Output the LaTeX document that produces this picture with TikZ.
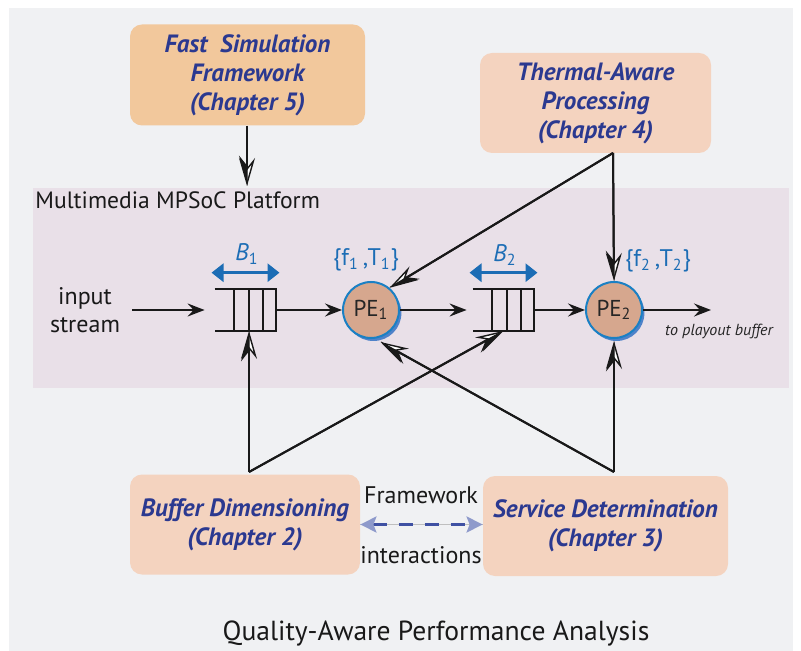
\documentclass[tikz,border=0pt]{standalone}
\usepackage{fontspec}
\setmainfont{PT Sans}
\usepackage{xcolor}
\usetikzlibrary{arrows.meta}
\usetikzlibrary{shadows}
\definecolor{outerbg}{HTML}{F0F1F3}
\definecolor{bandbg}{HTML}{E9E0E8}
\definecolor{fastfill}{HTML}{F2C89C}
\definecolor{peachfill}{HTML}{F4D3BF}
\definecolor{titleblue}{HTML}{2B3990}
\definecolor{labelblue}{HTML}{1C6DB5}
\definecolor{pefill}{HTML}{D6A78E}
\definecolor{peline}{HTML}{1A80C4}
\definecolor{peshadow}{HTML}{4E82C9}
\definecolor{dashblue}{HTML}{3F51A3}
\definecolor{tipblue}{HTML}{8E9ACB}
\tikzset{
    chapbox/.style = {rectangle, rounded corners=6pt, align=center, inner sep=0pt,
        text=titleblue, font=\fontsize{12.5}{14.5}\selectfont\bfseries\itshape},
    pe_node/.style = {circle, draw=peline, line width=1pt, fill=pefill, minimum size=28pt,
        inner sep=0pt, text=black!85, font=\fontsize{11.5}{12}\selectfont,
        drop shadow={shadow xshift=1.2pt, shadow yshift=-1.5pt, fill=peshadow, opacity=1}},
    buffer/.style = {rectangle, minimum width=30.5pt, minimum height=20.5pt, inner sep=0pt},
    bufline/.style = {line width=1pt, black!90},
    flow/.style = {line width=1pt, black!90, -{Stealth[length=8.5pt, width=6.5pt, inset=3pt]}},
    ctrl/.style = {line width=1pt, black!90,
        -{Stealth[length=14pt, width=8pt, inset=5pt, fill=white, line width=0.7pt]},
        postaction={draw, -{Stealth[#1, length=14pt, width=8pt, inset=5pt, fill=black!90, line width=0.7pt]}}},
    ctrl/.default = left,
    sizearrow/.style = {line width=1.5pt, labelblue, {Triangle[length=6pt, width=9pt]}-{Triangle[length=6pt, width=9pt]}},
    bluelabel/.style = {text=labelblue, inner sep=0pt, font=\fontsize{12}{13}\selectfont},
    plaintext/.style = {inner sep=0pt, text=black!90, align=center, font=\fontsize{12}{14}\selectfont}
}
\begin{document}
\begin{tikzpicture}[x=0.5pt, y=-0.5pt]
    \useasboundingbox (0,0) rectangle (801,651);
    \fill[white] (0,0) rectangle (801,651);
    \fill[outerbg] (9,8) rectangle (793,651);
    \fill[bandbg] (33,188) rectangle (789,388);

    \node [plaintext, anchor=west, font=\fontsize{11.8}{13}\selectfont] (platform) at (35,200) {Multimedia MPSoC Platform};

    \node [chapbox, fill=fastfill, minimum width=117.5pt, minimum height=50.5pt] (fast) at (247.5,75)
        {Fast\ \ Simulation\\Framework\\(Chapter 5)};
    \node [chapbox, fill=peachfill, minimum width=115.5pt, minimum height=50pt] (thermal) at (595.5,103)
        {Thermal-Aware\\Processing\\(Chapter 4)};
    \node [chapbox, fill=peachfill, minimum width=115pt, minimum height=50pt] (bufdim) at (245,524.5)
        {Buffer Dimensioning\\(Chapter 2)};
    \node [chapbox, fill=peachfill, minimum width=122.5pt, minimum height=50pt] (servdet) at (605.5,526)
        {Service Determination\\(Chapter 3)};

    \node [buffer] (buf1) at (245.5,310) {};
    \node [buffer] (buf2) at (503.5,310) {};
    \foreach \b in {buf1,buf2} {
        \draw [bufline] (\b.north west) -- (\b.north east) -- (\b.south east) -- (\b.south west);
        \foreach \d in {6.5,13.5,21}
            \draw [bufline] ([xshift=-\d pt]\b.north east) -- ([xshift=-\d pt]\b.south east);
        \draw [sizearrow] ([shift={(-17pt,8.2pt)}]\b.north) -- ([shift={(17pt,8.2pt)}]\b.north);
    }

    \node [pe_node] (pe1) at (371,310) {PE\textsubscript{1}};
    \node [pe_node] (pe2) at (614,310) {PE\textsubscript{2}};

    \node [bluelabel] (b1) at (247,254) {\textit{B}\textsubscript{1}};
    \node [bluelabel] (b2) at (505,255) {\textit{B}\textsubscript{2}};
    \node [bluelabel] (ft1) at (366,260) {\{f\textsubscript{1}\,,T\textsubscript{1}\}};
    \node [bluelabel] (ft2) at (658,261) {\{f\textsubscript{2}\,,T\textsubscript{2}\}};

    \node [plaintext] (instream) at (85,310) {input\\stream};
    \coordinate (playout) at (711,310);
    \node [inner sep=0pt, text=black!85, font=\fontsize{8}{9}\selectfont\itshape] (playtext) at (719,331) {to playout buffer};

    \draw [flow] ([xshift=6pt]instream.east) -- ([xshift=-5pt]buf1.west);
    \draw [flow] (buf1.east) -- (pe1.west);
    \draw [flow] (pe1.east) -- ([xshift=-3pt]buf2.west);
    \draw [flow] (buf2.east) -- (pe2.west);
    \draw [flow] (pe2.east) -- (playout);

    \coordinate (fastend) at (247,186);
    \draw [ctrl=right] (fast.south -| fastend) -- (fastend);

    \coordinate (thapex) at (613,153);
    \draw [ctrl=right] (thapex) -- (pe2.north);
    \draw [ctrl] (thapex) -- (pe1.50);

    \coordinate (bdapex) at (249,472);
    \coordinate (sdapex) at (614,472);
    \draw [ctrl] (bdapex) -- (bdapex |- buf1.south);
    \draw [ctrl=right] (bdapex) -- (buf2.south);
    \draw [ctrl] (sdapex) -- ([yshift=-1pt]pe2.south);
    \draw [ctrl] (sdapex) -- ([shift={(1pt,-2pt)}]pe1.-75);

    \draw [black!25, line width=0.4pt] (bufdim.east) -- (servdet.west |- bufdim.east);
    \draw [dashblue, line width=1.5pt, dash pattern=on 7pt off 6pt,
        {Stealth[length=8pt, width=8pt, inset=1.5pt, fill=tipblue, color=tipblue]}-{Stealth[length=8pt, width=8pt, inset=1.5pt, fill=tipblue, color=tipblue]}]
        (bufdim.east) -- (servdet.west |- bufdim.east);
    \node [plaintext] (fwtext) at (421,495) {Framework};
    \node [plaintext] (intext) at (421,555) {interactions};

    \node [inner sep=0pt, text=black!90, font=\fontsize{13.8}{15}\selectfont] (caption) at (436,633)
        {Quality-Aware Performance Analysis};
\end{tikzpicture}
\end{document}
